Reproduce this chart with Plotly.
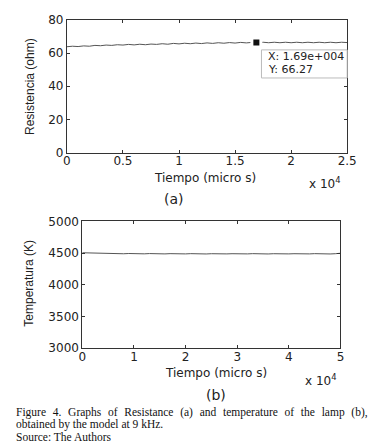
import plotly.graph_objects as go

# ---------------- data ----------------
res_time = [0, 500, 1000, 1500, 2000, 2500, 3000, 3500, 4000, 4500,
            5000, 5500, 6000, 6500, 7000, 7500, 8000, 8500, 9000, 9500,
            10000, 10500, 11000, 11500, 12000, 12500, 13000, 13500, 14000, 14500,
            15000, 15500, 16000, 16500, 17000, 17500, 18000, 18500, 19000, 19500,
            20000, 20500, 21000, 21500, 22000, 22500, 23000, 23500, 24000, 24500,
            25000]
res_ohm = [63.8, 64.1, 63.9, 64.3, 64.1, 64.6, 64.4, 64.8, 64.6, 65.0,
           64.8, 65.2, 64.9, 65.3, 65.0, 65.4, 65.2, 65.6, 65.3, 65.8,
           65.5, 65.9, 65.6, 66.0, 65.7, 66.1, 65.8, 66.2, 65.9, 66.3,
           66.0, 66.4, 66.1, 66.4, 66.1, 66.5, 66.2, 66.5, 66.2, 66.5,
           66.2, 66.5, 66.2, 66.5, 66.2, 66.5, 66.2, 66.5, 66.2, 66.5,
           66.3]

temp_time = [0, 1000, 2000, 3000, 4000, 5000, 6000, 7000, 8000, 9000,
             10000, 11000, 12000, 13000, 14000, 15000, 16000, 17000, 18000, 19000,
             20000, 21000, 22000, 23000, 24000, 25000, 26000, 27000, 28000, 29000,
             30000, 31000, 32000, 33000, 34000, 35000, 36000, 37000, 38000, 39000,
             40000, 41000, 42000, 43000, 44000, 45000, 46000, 47000, 48000, 49000,
             50000]
temp_k = [4505, 4502, 4499, 4503, 4497, 4494, 4490, 4494, 4489, 4493,
          4488, 4492, 4488, 4492, 4487, 4491, 4487, 4491, 4488, 4492,
          4487, 4491, 4487, 4490, 4486, 4490, 4487, 4491, 4487, 4490,
          4486, 4490, 4487, 4491, 4487, 4490, 4486, 4490, 4487, 4491,
          4487, 4490, 4486, 4490, 4487, 4491, 4487, 4490, 4486, 4490,
          4497]

datatip_x = [16900]
datatip_y = [66.27]

res_xticks = [0, 5000, 10000, 15000, 20000, 25000]
res_xtick_labels = ["0", "0.5", "1", "1.5", "2", "2.5"]
res_yticks = [0, 20, 40, 60, 80]
temp_xticks = [0, 10000, 20000, 30000, 40000, 50000]
temp_xtick_labels = ["0", "1", "2", "3", "4", "5"]
temp_yticks = [3000, 3500, 4000, 4500, 5000]

# ---------------- layout helpers ----------------
W, H = 380, 448


def px(x):
    return x / W


def py(y):
    return 1 - y / H


WIDE = dict(family="DejaVu Sans, Verdana, sans-serif", size=12, color="#222")
NARROW = dict(family="Liberation Sans, Arial, sans-serif", size=12, color="#222")
SERIF = dict(family="Liberation Serif, Times New Roman, serif", size=11.5, color="#111")

fig = go.Figure()

fig.add_trace(go.Scatter(x=res_time, y=res_ohm, mode="lines",
                         line=dict(color="#555", width=1),
                         xaxis="x", yaxis="y", showlegend=False, hoverinfo="skip"))
fig.add_trace(go.Scatter(x=datatip_x, y=datatip_y, mode="markers",
                         marker=dict(symbol="square", size=9, color="#111",
                                     line=dict(color="white", width=3)),
                         xaxis="x", yaxis="y", showlegend=False, hoverinfo="skip"))
fig.add_trace(go.Scatter(x=temp_time, y=temp_k, mode="lines",
                         line=dict(color="#555", width=1),
                         xaxis="x2", yaxis="y2", showlegend=False, hoverinfo="skip"))

axis_common = dict(ticks="inside", ticklen=3, tickcolor="#333", showline=True,
                   linecolor="#333", linewidth=1, mirror="ticks", showgrid=False,
                   zeroline=False, tickfont=WIDE)

fig.update_layout(
    width=W, height=H,
    margin=dict(l=0, r=0, t=0, b=0),
    paper_bgcolor="white", plot_bgcolor="white",
    xaxis=dict(domain=[px(57), px(348)], range=[0, 25000], anchor="y",
               tickvals=res_xticks, ticktext=res_xtick_labels,
               ticklabelstandoff=-3, **axis_common),
    yaxis=dict(domain=[py(142), py(5)], range=[0, 80], anchor="x",
               tickvals=res_yticks, **axis_common),
    xaxis2=dict(domain=[px(73), px(341)], range=[0, 50000], anchor="y2",
                tickvals=temp_xticks, ticktext=temp_xtick_labels,
                ticklabelstandoff=-3, **axis_common),
    yaxis2=dict(domain=[py(344), py(213)], range=[3000, 5000], anchor="x2",
                tickvals=temp_yticks, **axis_common),
)

# datatip box
fig.add_shape(type="rect", xref="paper", yref="paper",
              x0=px(259), x1=px(348), y0=py(65), y1=py(36),
              fillcolor="white", line=dict(color="#bbb", width=1), layer="above")

ann = []


def add_text(text, x, y, font, xanchor="center", angle=0):
    ann.append(dict(text=text, x=px(x), y=py(y), xref="paper", yref="paper",
                    showarrow=False, xanchor=xanchor, yanchor="middle",
                    font=font, textangle=angle))


add_text("X: 1.69e+004", 264, 43, dict(WIDE, size=11), xanchor="left")
add_text("Y: 66.27", 264, 56, dict(WIDE, size=11), xanchor="left")

add_text("Resistencia (ohm)", 18, 74, NARROW, angle=-90)
add_text("Tiempo (micro s)", 200, 168, WIDE)
add_text("x 10<sup>4</sup>", 325, 173, WIDE)
add_text("(a)", 168, 190, dict(WIDE, size=14))

add_text("Temperatura (K)", 18, 277, NARROW, angle=-90)
add_text("Tiempo (micro s)", 212, 370, WIDE)
add_text("x 10<sup>4</sup>", 321, 377, WIDE)
add_text("(b)", 212, 392, dict(WIDE, size=14))

gap = "&nbsp;&nbsp;&#8202;"
cap1 = gap.join(["Figure", "4.", "Graphs", "of", "Resistance", "(a)", "and",
                 "temperature", "of", "the", "lamp", "(b),"])
add_text(cap1, 2, 410, SERIF, xanchor="left")
add_text("obtained by the model at 9 kHz.", 2, 423, SERIF, xanchor="left")
add_text("Source: The Authors", 2, 436, SERIF, xanchor="left")

fig.update_layout(annotations=ann)

fig.write_html("out.html")
